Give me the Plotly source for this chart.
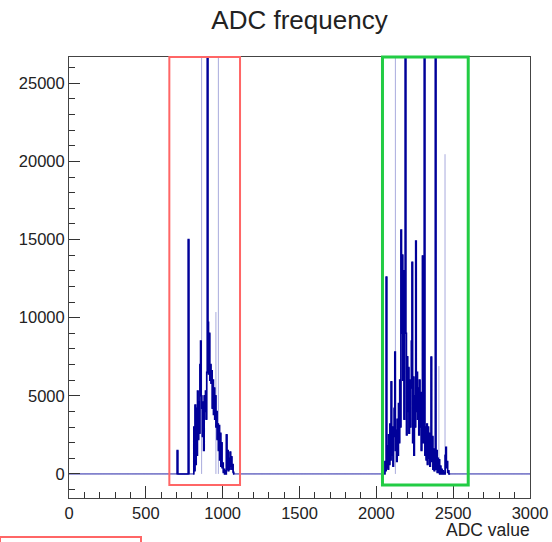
import numpy as np
import plotly.graph_objects as go

# ---------------- data ----------------
BIN_WIDTH = 4          # ADC counts per histogram bin
X_MAX = 3000

# left cluster: consecutive bins starting at ADC 812
left_start = 812
left_counts = [3000, 200, 4400, 600, 4200, 1200, 5300, 2200, 4600, 2600,
               7000, 8500, 5000, 4200, 2400, 4600, 1500, 5000, 4000, 5300,
               3500, 6500, 40000, 9700, 6400, 9000, 6000, 7000, 5800, 6600,
               4200, 6000, 3800, 5500, 3500, 5000, 3000, 4000, 2200, 3200,
               1500, 3100, 900, 2600, 500, 2000, 400, 700, 100, 300,
               0, 200, 0, 2500, 300, 1500, 200, 1000, 300, 1400,
               500, 1100, 300, 600, 100]

# right cluster: consecutive bins starting at ADC 2056
right_start = 2056
right_counts = [800, 200, 12600, 400, 1800, 300, 2500, 600, 3200, 900,
                5900, 1200, 3000, 500, 2400, 4200, 7800, 1500, 2800, 800,
                3500, 1200, 4500, 2000, 6000, 3000, 15600, 9000, 14000, 6000,
                13000, 3500, 12000, 40000, 9000, 2500, 7500, 4000, 6800, 2600,
                6000, 3000, 5500, 8500, 13550, 2000, 6200, 1200, 5000, 3000,
                14900, 4000, 6500, 3500, 5500, 2500, 6000, 3000, 5200, 1500,
                4600, 13950, 2000, 5000, 40000, 1200, 3000, 900, 3200, 600,
                3000, 1000, 2600, 500, 2000, 7480, 800, 2400, 300, 1600,
                200, 1200, 40000, 300, 1500, 100, 1000, 100, 900, 0,
                500, 0, 300, 0, 200, 0, 100, 0, 1200, 1700,
                400, 800, 100, 200, 0]

# isolated bins
spike_adc = [706, 778]
spike_counts = [1500, 15000]

# faint (light) spikes
faint_adc = [863, 956, 972, 2124, 2407, 2447]
faint_counts = [40000, 10360, 40000, 40000, 6900, 20460]

# highlight boxes (ADC range)
red_box_x = [653, 1113]
green_box_x = [2040, 2598]

y_range = [-1540, 26680]
y_ticks = [0, 5000, 10000, 15000, 20000, 25000]
x_ticks = [0, 500, 1000, 1500, 2000, 2500, 3000]

# ---------------- build histogram ----------------
edges = np.arange(0, X_MAX + BIN_WIDTH, BIN_WIDTH)
counts = np.zeros(len(edges) - 1)
i0 = left_start // BIN_WIDTH
counts[i0:i0 + len(left_counts)] = left_counts
i0 = right_start // BIN_WIDTH
counts[i0:i0 + len(right_counts)] = right_counts
for a, c in zip(spike_adc, spike_counts):
    counts[a // BIN_WIDTH] = c

hx = np.array(list(edges[:-1]) + [edges[-1]], dtype=float)
hy = np.array(list(counts) + [counts[-1]], dtype=float)

fx, fy = [], []
for a, c in zip(faint_adc, faint_counts):
    fx += [a, a, None]
    fy += [0, c, None]

FONT = "Liberation Sans, Arial, sans-serif"
NAVY = "#000099"

fig = go.Figure()
fig.add_trace(go.Scatter(x=fx, y=fy, mode="lines",
                         line=dict(color="#a9abdd", width=1),
                         hoverinfo="skip", showlegend=False))
# full histogram (thin, gives the zero baseline)
fig.add_trace(go.Scatter(x=hx, y=hy, mode="lines",
                         line=dict(color=NAVY, width=1, shape="hv", simplify=False),
                         hoverinfo="skip", showlegend=False))
# busy regions of the same histogram drawn a bit heavier
for start, vals in [(min(spike_adc), None), (left_start, left_counts), (right_start, right_counts)]:
    if vals is None:
        a = start // BIN_WIDTH - 1
        b = max(spike_adc) // BIN_WIDTH + 2
    else:
        a = start // BIN_WIDTH - 1
        b = start // BIN_WIDTH + len(vals) + 1
    fig.add_trace(go.Scatter(x=hx[a:b + 1], y=hy[a:b + 1], mode="lines",
                             line=dict(color=NAVY, width=1.6, shape="hv", simplify=False),
                             hoverinfo="skip", showlegend=False))

PLOT_L, PLOT_R, PLOT_T, PLOT_B = 69, 22, 57, 44
PLOT_W = 552 - PLOT_L - PLOT_R
PLOT_H = 542 - PLOT_T - PLOT_B
box_bottom = (498 - 485) / PLOT_H

fig.add_shape(type="rect", xref="x", yref="paper",
              x0=red_box_x[0], x1=red_box_x[1], y0=box_bottom, y1=1.0,
              line=dict(color="#ff6666", width=2), layer="above")
fig.add_shape(type="rect", xref="x", yref="paper",
              x0=green_box_x[0], x1=green_box_x[1], y0=box_bottom, y1=1.0,
              line=dict(color="#22cc44", width=3), layer="above")
# partial red box at the bottom-left, outside the frame
fig.add_shape(type="rect", xref="paper", yref="paper",
              x0=(0 - PLOT_L) / PLOT_W, x1=(141 - PLOT_L) / PLOT_W,
              y0=(498 - 537) / PLOT_H, y1=(498 - 560) / PLOT_H,
              line=dict(color="#ff6666", width=2), layer="above")

fig.update_layout(
    width=552, height=542,
    margin=dict(l=PLOT_L, r=PLOT_R, t=PLOT_T, b=PLOT_B, autoexpand=False),
    paper_bgcolor="white", plot_bgcolor="white",
    font=dict(family=FONT, color="#222", size=16),
    title=dict(text="ADC frequency", x=0.5, xref="paper", xanchor="center",
               y=1 - 20 / 542, yanchor="middle",
               font=dict(family=FONT, size=26, color="#222")),
    showlegend=False,
)
fig.update_xaxes(range=[0, X_MAX], tickvals=x_ticks, ticktext=[str(v) for v in x_ticks],
                 ticks="inside", ticklen=12, tickcolor="#333", tickwidth=1,
                 minor=dict(dtick=100, tick0=0, ticks="inside", ticklen=6, tickcolor="#333"),
                 showline=True, linecolor="#444", linewidth=1, mirror=True,
                 showgrid=False, zeroline=False, automargin=False,
                 tickfont=dict(family=FONT, size=16.5, color="#222"))
fig.update_yaxes(range=y_range, tickvals=y_ticks, ticktext=[str(v) for v in y_ticks],
                 ticks="inside", ticklen=11, tickcolor="#333", tickwidth=1,
                 minor=dict(dtick=1000, tick0=0, ticks="inside", ticklen=6, tickcolor="#333"),
                 showline=True, linecolor="#444", linewidth=1, mirror=True,
                 showgrid=False, zeroline=False, automargin=False,
                 tickfont=dict(family=FONT, size=16.5, color="#222"))

fig.add_annotation(text="ADC value", xref="paper", yref="paper",
                   x=1 + 2 / PLOT_W, y=(498 - 530) / PLOT_H, xanchor="right", yanchor="middle",
                   showarrow=False, font=dict(family=FONT, size=17.5, color="#222"))

fig.write_html("out.html")
